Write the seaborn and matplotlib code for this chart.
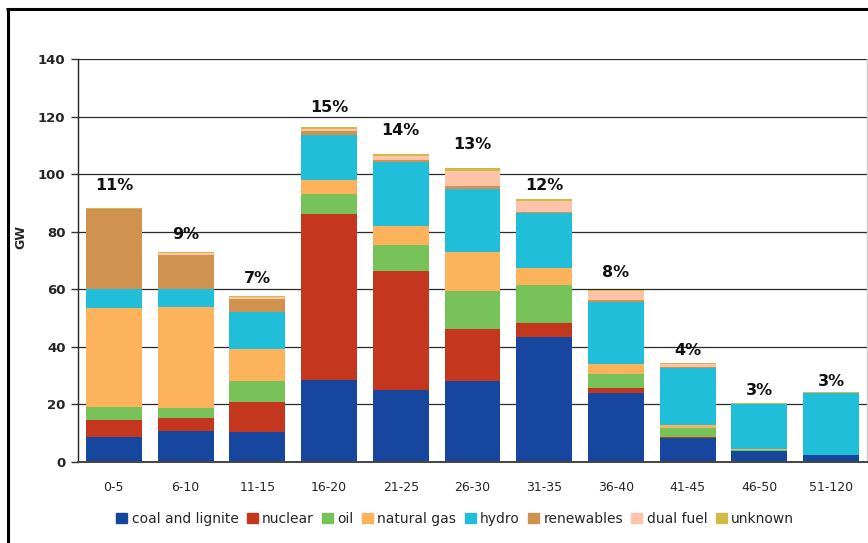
import matplotlib
matplotlib.use("Agg")
import matplotlib.pyplot as plt
import seaborn as sns
import numpy as np
from matplotlib.lines import Line2D
from matplotlib.patches import Patch

categories = ["0-5", "6-10", "11-15", "16-20", "21-25", "26-30", "31-35", "36-40", "41-45", "46-50", "51-120"]
coal = [8.7, 10.8, 10.4, 28.6, 25.1, 28.1, 43.4, 24.0, 8.3, 3.9, 2.4]
nuclear = [5.9, 4.5, 10.4, 57.6, 41.3, 18.1, 4.9, 1.7, 0.4, 0.0, 0.0]
oil = [4.5, 3.5, 7.3, 6.9, 9.0, 13.2, 13.2, 5.0, 3.1, 0.3, 0.0]
natural_gas = [34.5, 35.0, 11.1, 4.9, 6.6, 13.5, 5.9, 3.5, 0.9, 0.4, 0.1]
hydro = [6.4, 6.2, 13.0, 15.6, 22.3, 21.9, 19.1, 21.4, 20.1, 15.7, 21.5]
renewables = [27.8, 12.0, 4.5, 1.5, 0.6, 1.1, 0.3, 0.7, 0.2, 0.0, 0.0]
dual_fuel = [0.0, 0.6, 0.6, 0.7, 1.4, 5.2, 3.8, 3.1, 1.0, 0.0, 0.0]
unknown = [0.3, 0.4, 0.4, 0.7, 0.7, 1.0, 0.6, 0.5, 0.3, 0.3, 0.4]
share_labels = ["11%", "9%", "7%", "15%", "14%", "13%", "12%", "8%", "4%", "3%", "3%"]
label_y = [95.9, 79.0, 63.9, 123.3, 115.0, 110.2, 95.9, 66.0, 38.9, 25.0, 28.1]
y_ticks = [0, 20, 40, 60, 80, 100, 120, 140]

series = [
    ("coal and lignite", coal, "#16469E"),
    ("nuclear", nuclear, "#C5361F"),
    ("oil", oil, "#77C35A"),
    ("natural gas", natural_gas, "#FCB35B"),
    ("hydro", hydro, "#21BEDA"),
    ("renewables", renewables, "#D0934F"),
    ("dual fuel", dual_fuel, "#FEC3A9"),
    ("unknown", unknown, "#CFBB45"),
]

sns.set_style("white")
plt.rcParams["font.family"] = ["DejaVu Sans"]

fig = plt.figure(figsize=(8.68, 5.43), dpi=100)
ax = fig.add_axes([78 / 868, 1 - 462 / 543, (867 - 78) / 868, (462 - 59) / 543])

bottom = np.zeros(len(categories))
for name, vals, col in series:
    sns.barplot(x=categories, y=vals, bottom=bottom, color=col, width=0.78,
                ax=ax, saturation=1, linewidth=0, edgecolor=col)
    bottom = bottom + np.array(vals)

for i, (lab, yy) in enumerate(zip(share_labels, label_y)):
    ax.text(i, yy, lab, ha="center", va="center", fontsize=11.5, fontweight="bold", color="#111111")

ax.set_xlim(-0.5, len(categories) - 0.5)
ax.set_ylim(0, 140)
ax.set_yticks(y_ticks)
ax.set_yticklabels([str(t) for t in y_ticks], fontweight="bold", fontsize=9.5)
ax.yaxis.grid(True, color="#2a2a2a", linewidth=0.9)
ax.set_axisbelow(True)

ax.set_xticks(range(len(categories)))
ax.set_xticklabels(categories, fontsize=9)
ax.set_xticks(np.arange(-0.5, len(categories)), minor=True)
ax.tick_params(axis="x", which="major", length=0, pad=14)
ax.tick_params(axis="x", which="minor", length=5, width=1, color="#333333", direction="out")
ax.tick_params(axis="y", length=5, width=1, color="#333333", direction="out", left=True, pad=4)

ax.spines["top"].set_visible(False)
ax.spines["left"].set_color("#222222")
ax.spines["left"].set_linewidth(1)
ax.spines["bottom"].set_color("#444444")
ax.spines["bottom"].set_linewidth(1.4)
ax.spines["right"].set_color("#cccccc")
ax.spines["right"].set_linewidth(1)

ax.set_ylabel("GW", fontweight="bold", fontsize=9)
ax.yaxis.set_label_coords((27 - 78) / 789, (462 - 237) / 403)
ax.set_xlabel("")

handles = [Patch(facecolor=c, edgecolor=c, label=n) for n, _, c in series]
fig.legend(handles=handles, loc="center", bbox_to_anchor=(455 / 868, 1 - 519 / 543),
           ncol=8, frameon=False, fontsize=10, handlelength=0.8, handleheight=0.8,
           handletextpad=0.3, columnspacing=0.6, borderaxespad=0)

# outer frame (left and top edges)
fig.add_artist(Line2D([7.5 / 868, 7.5 / 868], [0, 1 - 9 / 543], transform=fig.transFigure,
                      color="black", linewidth=2.2, solid_capstyle="butt"))
fig.add_artist(Line2D([6.4 / 868, 1], [1 - 9 / 543, 1 - 9 / 543], transform=fig.transFigure,
                      color="black", linewidth=2.2, solid_capstyle="butt"))

fig.savefig("out.png", dpi=100)
